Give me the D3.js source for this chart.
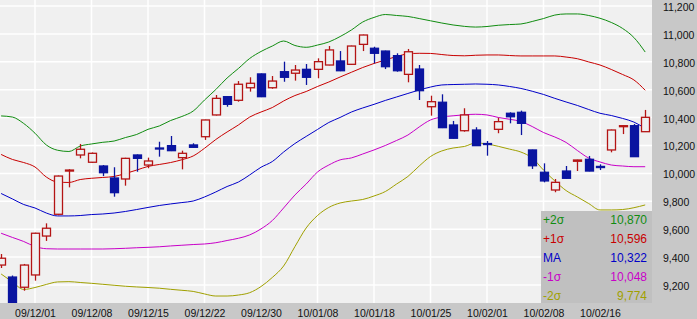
<!DOCTYPE html>
<html>
<head>
<meta charset="utf-8">
<script src="https://cdn.jsdelivr.net/npm/d3@7"></script>
<style>
  body { margin: 0; background: #fff; }
  svg text { font-family: "Liberation Sans", Arial, sans-serif; }
</style>
</head>
<body>
<div id="chart"></div>
<script>
// trading days (yy/mm/dd)
const dates = [
  "09/11/26", "09/11/27", "09/11/30", "09/12/01", "09/12/02", "09/12/03", "09/12/04", "09/12/07", "09/12/08", "09/12/09",
  "09/12/10", "09/12/11", "09/12/14", "09/12/15", "09/12/16", "09/12/17", "09/12/18", "09/12/21", "09/12/22", "09/12/24",
  "09/12/25", "09/12/28", "09/12/29", "09/12/30", "10/01/04", "10/01/05", "10/01/06", "10/01/07", "10/01/08", "10/01/12",
  "10/01/13", "10/01/14", "10/01/15", "10/01/18", "10/01/19", "10/01/20", "10/01/21", "10/01/22", "10/01/25", "10/01/26",
  "10/01/27", "10/01/28", "10/01/29", "10/02/01", "10/02/02", "10/02/03", "10/02/04", "10/02/05", "10/02/08", "10/02/09",
  "10/02/10", "10/02/12", "10/02/15", "10/02/16", "10/02/17", "10/02/18", "10/02/19", "10/02/22"
];
const xTickLabels = ["09/12/01", "09/12/08", "09/12/15", "09/12/22", "09/12/30", "10/01/08", "10/01/18", "10/01/25", "10/02/01", "10/02/08", "10/02/16"];
const yTickValues = [9200, 9400, 9600, 9800, 10000, 10200, 10400, 10600, 10800, 11000, 11200];

const open = [
  9343, 9257, 9184, 9272, 9551, 9707, 10020, 10132, 10080, 10053,
  9967, 9960, 10132, 10060, 10182, 10199, 10113, 10204, 10263, 10419,
  10550, 10524, 10614, 10713, 10614, 10729, 10718, 10746, 10746, 10777,
  10806, 10782, 10925, 10897, 10877, 10844, 10710, 10748, 10478, 10510,
  10347, 10306, 10311, 10214, 10316, 10431, 10438, 10168, 10008, 9881,
  10017, 10087, 10101, 10050, 10168, 10335, 10342, 10299
];
const high = [
  9422, 9268, 9351, 9575, 9642, 9985, 10030, 10211, 10150, 10060,
  10044, 10112, 10136, 10113, 10227, 10268, 10163, 10216, 10385, 10562,
  10553, 10662, 10689, 10716, 10698, 10801, 10777, 10784, 10825, 10913,
  10877, 10916, 10995, 10908, 10880, 10861, 10892, 10777, 10557, 10567,
  10376, 10467, 10331, 10232, 10399, 10438, 10450, 10170, 10072, 9960,
  10053, 10098, 10125, 10065, 10314, 10345, 10354, 10455
];
const low = [
  9322, 9067, 9159, 9231, 9516, 9700, 9900, 10108, 10075, 9981,
  9833, 9912, 10012, 10037, 10120, 10160, 10029, 10185, 10240, 10415,
  10478, 10514, 10586, 10547, 10607, 10657, 10665, 10634, 10682, 10775,
  10733, 10777, 10877, 10789, 10748, 10729, 10653, 10526, 10414, 10325,
  10250, 10299, 10197, 10127, 10288, 10359, 10275, 10032, 9936, 9865,
  9963, 10017, 10015, 10024, 10151, 10282, 10118, 10297
];
const close = [
  9392, 9071, 9343, 9571, 9607, 9981, 10024, 10173, 10144, 10005,
  9862, 10108, 10108, 10089, 10175, 10163, 10144, 10187, 10383, 10538,
  10495, 10639, 10646, 10550, 10662, 10689, 10741, 10689, 10801, 10885,
  10736, 10913, 10992, 10861, 10765, 10736, 10872, 10593, 10514, 10328,
  10252, 10419, 10199, 10207, 10371, 10406, 10359, 10055, 9946, 9936,
  9965, 10096, 10017, 10042, 10311, 10342, 10120, 10402
];

// bollinger bands
const plus2 = [
  10412, 10404, 10358, 10288, 10204, 10166, 10157, 10196, 10211, 10223,
  10232, 10257, 10279, 10316, 10340, 10379, 10408, 10447, 10526, 10601,
  10684, 10752, 10824, 10874, 10913, 10949, 10917, 10904, 10920, 10942,
  10981, 11028, 11085, 11118, 11139, 11132, 11125, 11110, 11094, 11078,
  11064, 11054, 11049, 11053, 11062, 11067, 11071, 11089, 11110, 11135,
  11143, 11143, 11132, 11112, 11082, 11039, 10974, 10870
];
const plus1 = [
  10136, 10100, 10078, 10046, 9974, 9938, 9935, 9956, 9965, 9971,
  9978, 9999, 10024, 10050, 10064, 10078, 10098, 10125, 10180, 10243,
  10297, 10347, 10404, 10440, 10472, 10519, 10558, 10587, 10623, 10655,
  10691, 10725, 10759, 10788, 10813, 10838, 10857, 10861, 10860, 10852,
  10845, 10843, 10847, 10849, 10849, 10845, 10842, 10842, 10842, 10842,
  10834, 10822, 10799, 10777, 10745, 10709, 10670, 10596
];
const ma = [
  9856, 9817, 9777, 9752, 9716, 9695, 9695, 9698, 9705, 9709,
  9716, 9727, 9741, 9756, 9770, 9781, 9791, 9802, 9831, 9867,
  9906, 9938, 9989, 10044, 10085, 10153, 10214, 10265, 10315, 10365,
  10401, 10440, 10469, 10495, 10523, 10548, 10573, 10598, 10619, 10634,
  10637, 10639, 10641, 10639, 10634, 10623, 10609, 10589, 10566, 10538,
  10512, 10487, 10458, 10431, 10415, 10394, 10368, 10322
];
const minus1 = [
  9571, 9541, 9512, 9476, 9460, 9458, 9458, 9458, 9458, 9458,
  9460, 9463, 9467, 9470, 9474, 9480, 9485, 9490, 9494, 9503,
  9519, 9535, 9559, 9602, 9662, 9752, 9845, 9924, 10010, 10060,
  10097, 10111, 10139, 10168, 10200, 10236, 10275, 10333, 10383, 10404,
  10413, 10420, 10424, 10419, 10401, 10388, 10372, 10336, 10293, 10261,
  10222, 10164, 10110, 10082, 10060, 10053, 10048, 10048
];
const minus2 = [
  9279, 9222, 9168, 9182, 9204, 9222, 9224, 9218, 9212, 9205,
  9198, 9191, 9186, 9182, 9177, 9169, 9162, 9154, 9136, 9121,
  9121, 9128, 9145, 9189, 9254, 9336, 9475, 9609, 9698, 9756,
  9788, 9802, 9813, 9838, 9870, 9924, 9978, 10053, 10121, 10161,
  10182, 10193, 10218, 10211, 10194, 10174, 10153, 10110, 10024, 9946,
  9877, 9831, 9784, 9738, 9738, 9741, 9754, 9774
];

const W = 697, H = 319;
const plotW = 652, plotH = 303;

const svg = d3.select("#chart").append("svg")
    .attr("width", W)
    .attr("height", H);

// backgrounds
svg.append("rect").attr("width", plotW).attr("height", plotH).attr("fill", "#f0f0f0");
svg.append("rect").attr("x", plotW).attr("width", W - plotW).attr("height", H).attr("fill", "#c8c8c8");
svg.append("rect").attr("y", plotH).attr("width", plotW).attr("height", H - plotH).attr("fill", "#c8c8c8");

const x = d3.scalePoint().domain(dates).range([1.1, 645.2]);
const y = d3.scaleLinear().domain([9200, 11200]).range([285, 6]);

svg.append("defs").append("clipPath").attr("id", "plot-clip")
    .append("rect").attr("width", plotW).attr("height", plotH);

// grid
const grid = svg.append("g").attr("stroke", "#ffffff").attr("stroke-width", 1.5);
grid.selectAll(".hg")
    .data(yTickValues)
    .enter().append("line")
    .attr("x1", 0).attr("x2", plotW)
    .attr("y1", d => y(d)).attr("y2", d => y(d));
grid.selectAll(".vg")
    .data(xTickLabels)
    .enter().append("line")
    .attr("y1", 0).attr("y2", plotH)
    .attr("x1", d => x(d)).attr("x2", d => x(d));

const plot = svg.append("g").attr("clip-path", "url(#plot-clip)");

// band lines
const bands = [
  {name: "+2σ", values: plus2, color: "#108c10"},
  {name: "+1σ", values: plus1, color: "#c80000"},
  {name: "MA", values: ma, color: "#0000c8"},
  {name: "-1σ", values: minus1, color: "#c800c8"},
  {name: "-2σ", values: minus2, color: "#a0a000"}
];
const line = d3.line()
    .x((d, i) => x(dates[i]))
    .y(d => y(d))
    .curve(d3.curveMonotoneX);

plot.selectAll(".band")
    .data(bands)
    .enter().append("path")
    .attr("class", "band")
    .attr("fill", "none")
    .attr("stroke", d => d.color)
    .attr("stroke-width", 1)
    .attr("d", d => line(d.values));

// candles
const upColor = "#b41414", downColor = "#0a14a0";
const candles = plot.selectAll(".candle")
    .data(dates.map((d, i) => ({date: d, o: open[i], h: high[i], l: low[i], c: close[i]})))
    .enter().append("g")
    .attr("class", "candle");

candles.append("line")
    .attr("x1", d => Math.round(x(d.date)) + 0.5)
    .attr("x2", d => Math.round(x(d.date)) + 0.5)
    .attr("y1", d => y(d.h))
    .attr("y2", d => y(d.l))
    .attr("stroke", d => d.c >= d.o ? upColor : downColor)
    .attr("stroke-width", 1.3);

candles.append("rect")
    .attr("x", d => Math.round(x(d.date)) - 3.5)
    .attr("width", 8)
    .attr("y", d => y(Math.max(d.o, d.c)))
    .attr("height", d => Math.max(1, Math.abs(y(d.o) - y(d.c))))
    .attr("fill", d => d.c >= d.o ? "#f0f0f0" : downColor)
    .attr("stroke", d => d.c >= d.o ? upColor : downColor)
    .attr("stroke-width", 1.3);

// y axis on the right
const yAxis = svg.append("g")
    .attr("transform", `translate(${plotW + 8},0)`)
    .call(d3.axisRight(y).tickValues(yTickValues).tickSize(0).tickPadding(3).tickFormat(d3.format(",")));
yAxis.select(".domain").remove();
yAxis.selectAll("text").attr("font-size", 10.5).attr("fill", "#111").attr("dy", "0.42em")
    .style("font-family", "'Liberation Sans', Arial, sans-serif");

// x axis
const xAxis = svg.append("g")
    .attr("transform", `translate(0,${plotH})`)
    .call(d3.axisBottom(x).tickValues(xTickLabels).tickSize(0).tickPadding(7));
xAxis.select(".domain").remove();
xAxis.selectAll("text").attr("font-size", 10.5).attr("fill", "#111")
    .style("font-family", "'Liberation Sans', Arial, sans-serif");

// legend box with last values
const legend = svg.append("g");
legend.append("rect")
    .attr("x", 541).attr("y", 211)
    .attr("width", plotW - 541).attr("height", plotH - 211)
    .attr("fill", "#c0c0c0");

const rows = legend.selectAll(".row")
    .data(bands)
    .enter().append("g")
    .attr("class", "row")
    .attr("transform", (d, i) => `translate(0,${219.5 + i * 19})`);

rows.append("text")
    .attr("x", 543)
    .attr("dy", "0.36em")
    .attr("font-size", 12)
    .attr("fill", d => d.color)
    .text(d => d.name);

rows.append("text")
    .attr("x", 647)
    .attr("dy", "0.36em")
    .attr("text-anchor", "end")
    .attr("font-size", 12)
    .attr("fill", d => d.color)
    .text(d => d3.format(",")(d.values[d.values.length - 1]));
</script>
</body>
</html>
